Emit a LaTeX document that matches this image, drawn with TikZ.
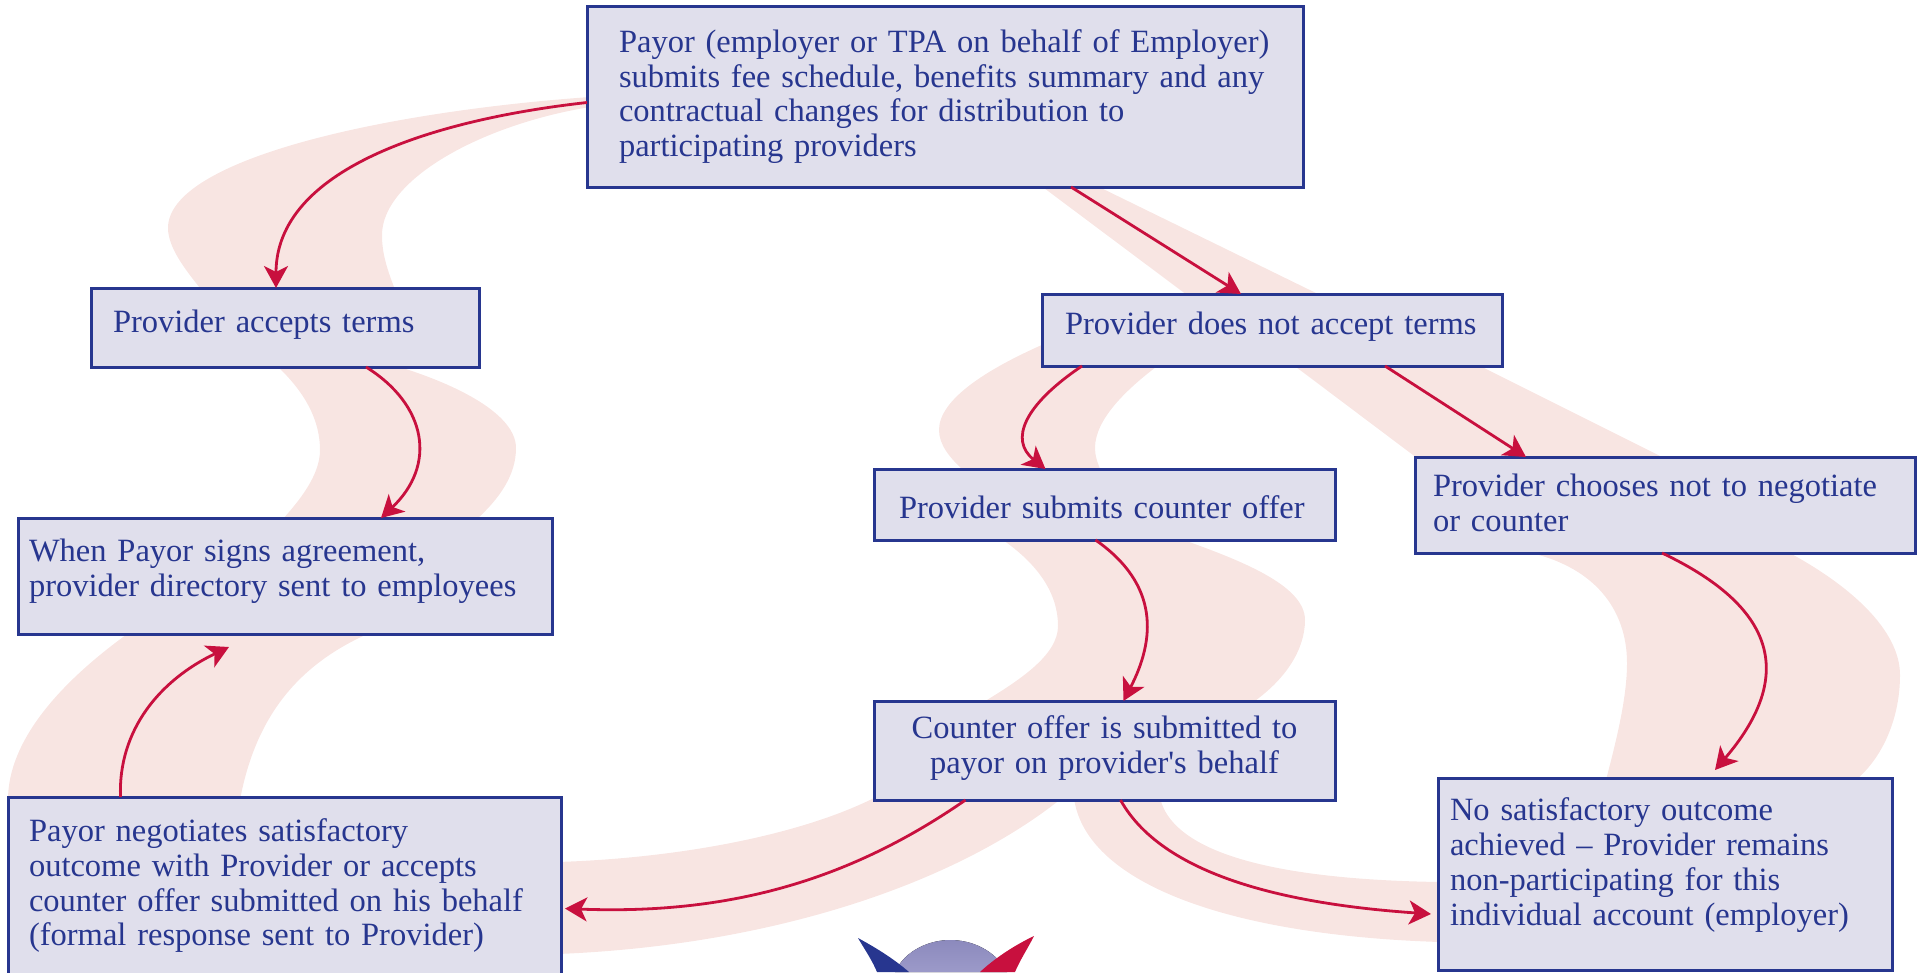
\documentclass[tikz,border=0pt]{standalone}
\usepackage{fontspec}
\setmainfont{Liberation Serif}
\usetikzlibrary{arrows.meta}
\definecolor{boxfill}{HTML}{E0DFEC}
\definecolor{boxline}{HTML}{27368F}
\definecolor{inktext}{HTML}{27368F}
\definecolor{arrowred}{HTML}{C8103E}
\definecolor{bandpink}{HTML}{F8E5E2}
\definecolor{domedark}{HTML}{8C8ABD}
\definecolor{domelight}{HTML}{9C9AC9}
\tikzset{
  flowbox/.style={draw=boxline,fill=boxfill,line width=3pt,text=inktext,align=left,
    anchor=north west,outer sep=0pt,inner ysep=0pt,font=\fontsize{32.5}{34.8}\selectfont},
  flowarrow/.style={draw=arrowred,line width=2.8pt,-{Stealth[length=22pt,width=24pt,inset=6pt]}},
  band/.style={fill=bandpink,draw=none}
}
\begin{document}
\begin{tikzpicture}[x=1pt,y=-1pt]
    \useasboundingbox (0,0) rectangle (1925,972);
    \clip (0,0) rectangle (1925,972);
    %% Bands left
    \fill[band] (590,97) .. controls (380,112) and (168,160) .. (168,228) .. controls (168,250) and (190,275) .. (203,292)
        -- (396,292) .. controls (385,265) and (382,250) .. (382,235) .. controls (382,180) and (480,125) .. (590,107) -- cycle;
    \fill[band] (276,365) .. controls (305,392) and (320,420) .. (320,450) .. controls (320,475) and (300,500) .. (282,520)
        -- (476,520) .. controls (500,498) and (516,475) .. (516,448) .. controls (516,415) and (460,385) .. (393,365) -- cycle;
    \fill[band] (130,632) .. controls (70,675) and (8,735) .. (8,800) -- (240,800) .. controls (255,720) and (295,665) .. (372,632) -- cycle;
    \fill[band] (558,862) .. controls (680,858) and (800,835) .. (874,798) -- (1062,798) .. controls (960,880) and (780,945) .. (558,954) -- cycle;
    %% Bands middle
    \fill[band] (1074,798) .. controls (1085,880) and (1220,935) .. (1440,942) -- (1440,882) .. controls (1300,880) and (1175,860) .. (1160,798) -- cycle;
    \fill[band] (1000,538) .. controls (1040,565) and (1058,595) .. (1058,626) .. controls (1058,655) and (1020,680) .. (982,703)
        -- (1252,703) .. controls (1285,680) and (1305,650) .. (1305,620) .. controls (1305,585) and (1240,560) .. (1178,538) -- cycle;
    \fill[band] (1044,344) .. controls (985,370) and (939,400) .. (939,430) .. controls (939,445) and (950,458) .. (964,471)
        -- (1101,471) .. controls (1097,462) and (1095,455) .. (1095,448) .. controls (1095,420) and (1125,390) .. (1160,364) -- cycle;
    %% Bands right
    \fill[band] (1040,185) -- (1187,295) -- (1320,295) -- (1095,185) -- cycle;
    \fill[band] (1292,364) -- (1417,458) -- (1664,458) -- (1476,364) -- cycle;
    \fill[band] (1522,551) .. controls (1595,565) and (1627,610) .. (1627,663) .. controls (1627,700) and (1615,745) .. (1606,780)
        -- (1856,780) .. controls (1885,755) and (1900,715) .. (1900,675) .. controls (1900,630) and (1850,585) .. (1786,551) -- cycle;
    %% Boxes
    \node[flowbox,inner xsep=32pt,text width=652pt,minimum height=181pt] (payor) at (587,6) {Payor (employer or TPA on behalf of Employer)\\submits fee schedule, benefits summary and any\\contractual changes for distribution to\\participating providers};
    \node[flowbox,inner xsep=22pt,text width=344pt,minimum height=79pt,text depth=12pt] (accepts) at (91,288) {Provider accepts terms};
    \node[flowbox,inner xsep=23pt,text width=414pt,minimum height=72pt,text depth=14pt] (declines) at (1042,294) {Provider does not accept terms};
    \node[flowbox,inner xsep=25pt,text width=411pt,minimum height=71pt,text depth=0pt,text height=27pt] (counter) at (874,469) {Provider submits counter offer};
    \node[flowbox,inner xsep=18pt,text width=464pt,minimum height=96pt,text depth=39pt] (chooses) at (1415,457) {Provider chooses not to negotiate\\or counter};
    \node[flowbox,inner xsep=11pt,text width=512pt,minimum height=116pt,text depth=52pt] (directory) at (18,518) {When Payor signs agreement,\\provider directory sent to employees};
    \node[flowbox,inner xsep=10pt,text width=441pt,minimum height=99pt,text depth=46pt,align=center] (submitted) at (874,701) {Counter offer is submitted to\\payor on provider\textquotesingle s behalf};
    \node[flowbox,inner xsep=21pt,text width=511pt,minimum height=187pt,text depth=121pt] (negotiates) at (8,797) {Payor negotiates satisfactory\\outcome with Provider or accepts\\counter offer submitted on his behalf\\(formal response sent to Provider)};
    \node[flowbox,inner xsep=12pt,text width=430pt,minimum height=192pt,text depth=129pt] (outcome) at (1438,778) {No satisfactory outcome\\achieved -- Provider remains\\non-participating for this\\individual account (employer)};
    %% Arrows
    \draw[flowarrow] ([yshift=-6pt]payor.west) .. controls (430,120) and (276,170) .. ([xshift=-9pt]accepts.north);
    \draw[flowarrow] ([xshift=81pt]accepts.south) .. controls (427,405) and (437,465) .. ([xshift=96pt]directory.north);
    \draw[flowarrow] ([xshift=-164pt]negotiates.north) .. controls (118,730) and (160,680) .. ([xshift=-56pt,yshift=-13pt]directory.south);
    \draw[flowarrow] ([xshift=126pt]payor.south) -- ([xshift=-31pt]declines.north);
    \draw[flowarrow] ([xshift=113pt]declines.south) -- ([xshift=-139pt]chooses.north);
    \draw[flowarrow] ([xshift=-190pt]declines.south) .. controls (1024,405) and (1009,440) .. ([xshift=-59pt]counter.north);
    \draw[flowarrow] ([xshift=-9pt]counter.south) .. controls (1160,585) and (1155,640) .. ([xshift=19pt]submitted.north);
    \draw[flowarrow] ([xshift=-3pt]chooses.south) .. controls (1782,610) and (1792,680) .. ([xshift=50pt,yshift=8pt]outcome.north);
    \draw[flowarrow] ([xshift=-139pt]submitted.south) .. controls (850,880) and (730,915) .. ([xshift=4pt,yshift=-18pt]negotiates.east);
    \draw[flowarrow] ([xshift=16pt]submitted.south) .. controls (1165,880) and (1300,905) .. ([xshift=-7pt,yshift=-40pt]outcome.west);
    %% Logo
    \fill[top color=domedark,bottom color=domelight] (895,972) .. controls (905,950) and (930,940) .. (950,940) .. controls (972,940) and (995,950) .. (1007,972) -- cycle;
    \fill[boxline] (858,938) .. controls (880,950) and (895,960) .. (909,972) -- (877,972) .. controls (872,960) and (865,950) .. (858,938) -- cycle;
    \fill[arrowred] (1034,936) .. controls (1015,945) and (995,958) .. (980,972) -- (1015,972) .. controls (1020,960) and (1028,948) .. (1034,936) -- cycle;
\end{tikzpicture}
\end{document}
